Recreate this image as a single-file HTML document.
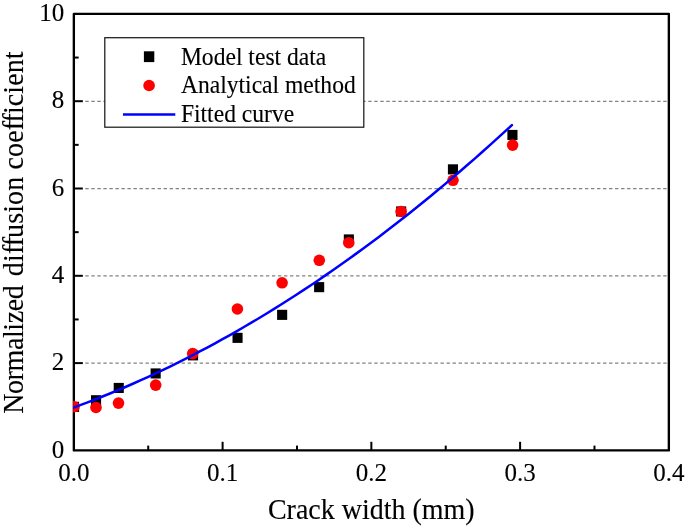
<!DOCTYPE html>
<html lang="en"><head><meta charset="utf-8"><title>Normalized diffusion coefficient vs crack width</title>
<style>
html,body{margin:0;padding:0;background:#fff;}
body{width:685px;height:527px;overflow:hidden;}
svg{display:block;will-change:transform;}
text{font-family:"Liberation Serif","Times New Roman",serif;fill:#000;stroke:#000;stroke-width:0.12px;stroke-linejoin:round;}
.tk{font-size:25px;}
.lg{font-size:23.6px;}
.ax{font-size:28px;}
</style></head><body>
<svg width="685" height="527" viewBox="0 0 685 527">
<rect x="0" y="0" width="685" height="527" fill="#fff"/>
<defs><clipPath id="pc"><rect x="73.10" y="13.90" width="595.75" height="436.50"/></clipPath></defs>
<g stroke="#828282" stroke-width="1.3" stroke-dasharray="3.4 2.62" fill="none">
<line x1="85.3" y1="363.18" x2="668" y2="363.18"/>
<line x1="85.3" y1="275.88" x2="668" y2="275.88"/>
<line x1="85.3" y1="188.58" x2="668" y2="188.58"/>
<line x1="85.3" y1="101.28" x2="668" y2="101.28"/>
</g>
<rect x="73.85" y="13.9" width="595.00" height="436.50" fill="none" stroke="#000" stroke-width="2.35" stroke-linejoin="round"/>
<g stroke="#000" stroke-width="2.0" fill="none">
<line x1="148.22" y1="450.4" x2="148.22" y2="445.60"/>
<line x1="222.60" y1="450.4" x2="222.60" y2="441.80"/>
<line x1="296.98" y1="450.4" x2="296.98" y2="445.60"/>
<line x1="371.35" y1="450.4" x2="371.35" y2="441.80"/>
<line x1="445.73" y1="450.4" x2="445.73" y2="445.60"/>
<line x1="520.10" y1="450.4" x2="520.10" y2="441.80"/>
<line x1="594.48" y1="450.4" x2="594.48" y2="445.60"/>
<line x1="73.85" y1="406.75" x2="78.65" y2="406.75"/>
<line x1="73.85" y1="363.10" x2="82.85" y2="363.10"/>
<line x1="73.85" y1="319.45" x2="78.65" y2="319.45"/>
<line x1="73.85" y1="275.80" x2="82.85" y2="275.80"/>
<line x1="73.85" y1="232.15" x2="78.65" y2="232.15"/>
<line x1="73.85" y1="188.50" x2="82.85" y2="188.50"/>
<line x1="73.85" y1="144.85" x2="78.65" y2="144.85"/>
<line x1="73.85" y1="101.20" x2="82.85" y2="101.20"/>
<line x1="73.85" y1="57.55" x2="78.65" y2="57.55"/>
</g>
<g clip-path="url(#pc)">
<g fill="#000">
<rect x="69.0" y="401.8" width="10.1" height="10.1"/>
<rect x="91.0" y="395.2" width="10.1" height="10.1"/>
<rect x="113.7" y="382.9" width="10.1" height="10.1"/>
<rect x="150.6" y="368.4" width="10.1" height="10.1"/>
<rect x="188.0" y="350.3" width="10.1" height="10.1"/>
<rect x="232.5" y="332.8" width="10.1" height="10.1"/>
<rect x="277.1" y="309.8" width="10.1" height="10.1"/>
<rect x="314.1" y="282.1" width="10.1" height="10.1"/>
<rect x="343.8" y="234.4" width="10.1" height="10.1"/>
<rect x="396.1" y="206.4" width="10.1" height="10.1"/>
<rect x="447.9" y="164.3" width="10.1" height="10.1"/>
<rect x="507.4" y="129.9" width="10.1" height="10.1"/>
</g><g fill="#ff0000">
<circle cx="74.0" cy="406.7" r="5.8"/>
<circle cx="96.0" cy="407.5" r="5.8"/>
<circle cx="118.5" cy="403.1" r="5.8"/>
<circle cx="155.7" cy="385.1" r="5.8"/>
<circle cx="192.7" cy="353.6" r="5.8"/>
<circle cx="237.4" cy="309.0" r="5.8"/>
<circle cx="282.1" cy="282.8" r="5.8"/>
<circle cx="319.3" cy="260.3" r="5.8"/>
<circle cx="348.8" cy="242.7" r="5.8"/>
<circle cx="401.1" cy="211.5" r="5.8"/>
<circle cx="453.0" cy="180.3" r="5.8"/>
<circle cx="512.6" cy="145.1" r="5.8"/>
</g>
<path d="M73.41,407.65 L80.84,404.91 L88.27,402.11 L95.70,399.23 L103.13,396.28 L110.57,393.25 L118.00,390.16 L125.43,387.00 L132.86,383.77 L140.30,380.46 L147.73,377.09 L155.16,373.64 L162.59,370.13 L170.03,366.54 L177.46,362.88 L184.89,359.15 L192.32,355.35 L199.76,351.48 L207.19,347.54 L214.62,343.53 L222.05,339.45 L229.49,335.30 L236.92,331.07 L244.35,326.78 L251.78,322.41 L259.22,317.98 L266.65,313.47 L274.08,308.90 L281.51,304.25 L288.95,299.53 L296.38,294.74 L303.81,289.88 L311.24,284.95 L318.68,279.95 L326.11,274.87 L333.54,269.73 L340.97,264.52 L348.41,259.23 L355.84,253.88 L363.27,248.45 L370.70,242.95 L378.14,237.39 L385.57,231.75 L393.00,226.04 L400.43,220.26 L407.87,214.41 L415.30,208.49 L422.73,202.49 L430.16,196.43 L437.60,190.30 L445.03,184.09 L452.46,177.82 L459.89,171.47 L467.33,165.06 L474.76,158.57 L482.19,152.01 L489.62,145.38 L497.06,138.68 L504.49,131.91 L511.92,125.07" fill="none" stroke="#0000ff" stroke-width="2.5" stroke-linecap="round" stroke-linejoin="round"/>
</g>
<text class="tk" transform="translate(73.85 480.7) scale(1 1.03)" text-anchor="middle">0.0</text>
<text class="tk" transform="translate(222.60 480.7) scale(1 1.03)" text-anchor="middle">0.1</text>
<text class="tk" transform="translate(371.35 480.7) scale(1 1.03)" text-anchor="middle">0.2</text>
<text class="tk" transform="translate(520.10 480.7) scale(1 1.03)" text-anchor="middle">0.3</text>
<text class="tk" transform="translate(668.85 480.7) scale(1 1.03)" text-anchor="middle">0.4</text>
<text class="tk" transform="translate(64.2 457.60) scale(1 1.03)" text-anchor="end">0</text>
<text class="tk" transform="translate(64.2 370.30) scale(1 1.03)" text-anchor="end">2</text>
<text class="tk" transform="translate(64.2 283.00) scale(1 1.03)" text-anchor="end">4</text>
<text class="tk" transform="translate(64.2 195.70) scale(1 1.03)" text-anchor="end">6</text>
<text class="tk" transform="translate(64.2 108.40) scale(1 1.03)" text-anchor="end">8</text>
<text class="tk" transform="translate(64.2 21.10) scale(1 1.03)" text-anchor="end">10</text>
<text class="ax" transform="translate(371.3 518.5) scale(1 1.04)" text-anchor="middle">Crack width (mm)</text>
<text class="ax" transform="translate(23.3 413.80) rotate(-90) scale(1 1.04)" letter-spacing="-0.395">Normalized</text>
<text class="ax" transform="translate(23.3 276.14) rotate(-90) scale(1 1.04)" letter-spacing="0.128">di<tspan letter-spacing="-0.972">ff</tspan>usion</text>
<text class="ax" transform="translate(23.3 169.42) rotate(-90) scale(1 1.04)" letter-spacing="0.110">coe<tspan letter-spacing="-0.990">ff</tspan>icient</text>
<rect x="104.8" y="37.7" width="259.0" height="89.5" fill="#fff" stroke="#1a1a1a" stroke-width="1.25"/>
<rect x="143.9" y="51.3" width="10.4" height="10.8" fill="#000"/>
<circle cx="149.1" cy="85.5" r="5.8" fill="#ff0000"/>
<line x1="123" y1="114.5" x2="175.3" y2="114.5" stroke="#0000ff" stroke-width="2.6"/>
<text class="lg" transform="translate(180.9 65.0) scale(1 1.03)">Model test data</text>
<text class="lg" transform="translate(180.9 93.0) scale(1 1.03)">Analytical method</text>
<text class="lg" transform="translate(180.9 121.6) scale(1 1.03)">Fitted curve</text>
</svg></body></html>
